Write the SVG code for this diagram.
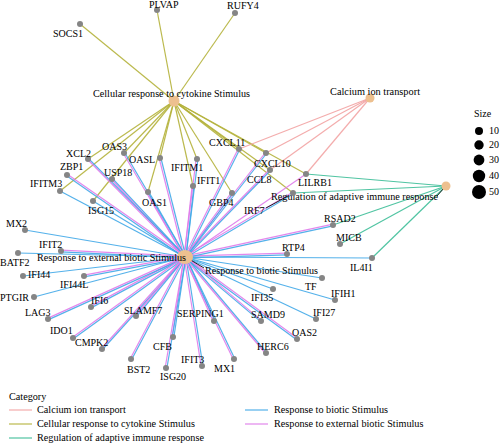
<svg xmlns="http://www.w3.org/2000/svg" width="500" height="443" viewBox="0 0 500 443">
<style>
text{font-family:"Liberation Serif","DejaVu Serif",serif;font-size:10px;fill:#000}
.hl{font-size:10.2px}
.lg{font-size:10.2px}
line{stroke-width:1.2;stroke-opacity:.9;fill:none}
.b{stroke:#41A9E8}
.m{stroke:#DF7BEA}
.o{stroke:#B4B13A}
.p{stroke:#F2A3A3}
.t{stroke:#3DBE98}
.k{stroke:#111;stroke-width:1}
.g{fill:#858585}
.h{fill:#EDC08F}
</style>
<rect width="500" height="443" fill="#fff"/>
<g id="connectors">
<line class="o" x1="174" y1="101" x2="80" y2="24"/>
<line class="o" x1="174" y1="101" x2="157" y2="10"/>
<line class="o" x1="174" y1="101" x2="235" y2="13"/>
<line class="o" x1="174" y1="101" x2="88" y2="159"/>
<line class="o" x1="174" y1="101" x2="124" y2="153"/>
<line class="o" x1="174" y1="101" x2="160" y2="158"/>
<line class="o" x1="174" y1="101" x2="60" y2="191"/>
<line class="o" x1="174" y1="101" x2="93" y2="201"/>
<line class="o" x1="174" y1="101" x2="148" y2="192"/>
<line class="o" x1="174" y1="101" x2="197" y2="159"/>
<line class="o" x1="174" y1="101" x2="193" y2="186"/>
<line class="o" x1="174" y1="101" x2="232" y2="193"/>
<line class="o" x1="174" y1="101" x2="239" y2="149"/>
<line class="o" x1="174" y1="101" x2="266" y2="153"/>
<line class="o" x1="174" y1="101" x2="270" y2="170"/>
<line class="o" x1="174" y1="101" x2="306" y2="174"/>
<line class="o" x1="174" y1="101" x2="293" y2="193"/>
<line class="p" x1="370" y1="98" x2="239" y2="149"/>
<line class="p" x1="370" y1="98" x2="266" y2="153"/>
<line class="p" x1="370" y1="98" x2="270" y2="170"/>
<line class="p" x1="370" y1="98" x2="306" y2="174"/>
<line class="t" x1="446" y1="186" x2="306" y2="174"/>
<line class="t" x1="446" y1="186" x2="293" y2="193"/>
<line class="t" x1="446" y1="186" x2="333" y2="225"/>
<line class="t" x1="446" y1="186" x2="340" y2="244"/>
<line class="t" x1="446" y1="186" x2="372" y2="258"/>
<line class="b" x1="185" y1="257" x2="25" y2="230"/>
<line class="b" x1="185" y1="257" x2="18" y2="253"/>
<line class="b" x1="185" y1="257" x2="23" y2="276"/>
<line class="b" x1="185" y1="257" x2="34" y2="297"/>
<line class="b" x1="185" y1="257" x2="316" y2="319"/>
<line class="b" x1="185" y1="257" x2="273" y2="289"/>
<line class="b" x1="185" y1="257" x2="335" y2="300"/>
<line class="b" x1="185" y1="257" x2="322" y2="278"/>
<line class="b" x1="185" y1="257" x2="372" y2="258"/>
<line class="b" x1="185" y1="257" x2="60" y2="191"/>
<line class="b" x1="185" y1="257" x2="93" y2="201"/>
<line class="m" x1="185" y1="257" x2="306" y2="174"/>
<line class="b" x1="185" y1="257.9" x2="61" y2="251.9"/><line class="m" x1="185" y1="256.1" x2="61" y2="250.1"/>
<line class="b" x1="185" y1="257.9" x2="84" y2="276.9"/><line class="m" x1="185" y1="256.1" x2="84" y2="275.1"/>
<line class="b" x1="185" y1="257.9" x2="91" y2="307.9"/><line class="m" x1="185" y1="256.1" x2="91" y2="306.1"/>
<line class="b" x1="185" y1="257.9" x2="48" y2="319.9"/><line class="m" x1="185" y1="256.1" x2="48" y2="318.1"/>
<line class="b" x1="185" y1="257.9" x2="73" y2="338.9"/><line class="m" x1="185" y1="256.1" x2="73" y2="337.1"/>
<line class="b" x1="185" y1="257.9" x2="297" y2="339.9"/><line class="m" x1="185" y1="256.1" x2="297" y2="338.1"/>
<line class="b" x1="185" y1="257.9" x2="261" y2="321.9"/><line class="m" x1="185" y1="256.1" x2="261" y2="320.1"/>
<line class="b" x1="185" y1="257.9" x2="287" y2="254.9"/><line class="m" x1="185" y1="256.1" x2="287" y2="253.1"/>
<line class="b" x1="185" y1="257.9" x2="333" y2="225.9"/><line class="m" x1="185" y1="256.1" x2="333" y2="224.1"/>
<line class="b" x1="185" y1="257.9" x2="293" y2="193.9"/><line class="m" x1="185" y1="256.1" x2="293" y2="192.1"/>
<line class="b" x1="185" y1="257.9" x2="67" y2="175.9"/><line class="m" x1="185" y1="256.1" x2="67" y2="174.1"/>
<line class="b" x1="185.9" y1="257" x2="102.9" y2="349"/><line class="m" x1="184.1" y1="257" x2="101.1" y2="349"/>
<line class="b" x1="185.9" y1="257" x2="136.9" y2="316"/><line class="m" x1="184.1" y1="257" x2="135.1" y2="316"/>
<line class="b" x1="185.9" y1="257" x2="131.9" y2="359"/><line class="m" x1="184.1" y1="257" x2="130.1" y2="359"/>
<line class="b" x1="185.9" y1="257" x2="173.9" y2="337"/><line class="m" x1="184.1" y1="257" x2="172.1" y2="337"/>
<line class="b" x1="185.9" y1="257" x2="166.9" y2="368"/><line class="m" x1="184.1" y1="257" x2="165.1" y2="368"/>
<line class="b" x1="185.9" y1="257" x2="202.9" y2="366"/><line class="m" x1="184.1" y1="257" x2="201.1" y2="366"/>
<line class="b" x1="185.9" y1="257" x2="234.9" y2="359"/><line class="m" x1="184.1" y1="257" x2="233.1" y2="359"/>
<line class="b" x1="185.9" y1="257" x2="214.9" y2="321"/><line class="m" x1="184.1" y1="257" x2="213.1" y2="321"/>
<line class="b" x1="185.9" y1="257" x2="266.9" y2="353"/><line class="m" x1="184.1" y1="257" x2="265.1" y2="353"/>
<line class="b" x1="185.9" y1="257" x2="270.9" y2="170"/><line class="m" x1="184.1" y1="257" x2="269.1" y2="170"/>
<line class="b" x1="185.9" y1="257" x2="266.9" y2="153"/><line class="m" x1="184.1" y1="257" x2="265.1" y2="153"/>
<line class="b" x1="185.9" y1="257" x2="239.9" y2="149"/><line class="m" x1="184.1" y1="257" x2="238.1" y2="149"/>
<line class="b" x1="185.9" y1="257" x2="232.9" y2="193"/><line class="m" x1="184.1" y1="257" x2="231.1" y2="193"/>
<line class="b" x1="185.9" y1="257" x2="193.9" y2="186"/><line class="m" x1="184.1" y1="257" x2="192.1" y2="186"/>
<line class="b" x1="185.9" y1="257" x2="197.9" y2="159"/><line class="m" x1="184.1" y1="257" x2="196.1" y2="159"/>
<line class="b" x1="185.9" y1="257" x2="160.9" y2="158"/><line class="m" x1="184.1" y1="257" x2="159.1" y2="158"/>
<line class="b" x1="185.9" y1="257" x2="148.9" y2="192"/><line class="m" x1="184.1" y1="257" x2="147.1" y2="192"/>
<line class="b" x1="185.9" y1="257" x2="112.9" y2="179"/><line class="m" x1="184.1" y1="257" x2="111.1" y2="179"/>
<line class="b" x1="185.9" y1="257" x2="124.9" y2="153"/><line class="m" x1="184.1" y1="257" x2="123.1" y2="153"/>
<line class="b" x1="185.9" y1="257" x2="88.9" y2="159"/><line class="m" x1="184.1" y1="257" x2="87.1" y2="159"/>
<line class="k" x1="189" y1="259" x2="204" y2="268"/>
<line class="k" x1="437" y1="196" x2="444" y2="188"/>
<line class="k" x1="266" y1="208" x2="288" y2="196"/>
</g>
<g id="hub-cytokine"><circle class="h" cx="174" cy="101" r="5.5"/><text class="hl" x="93" y="97" textLength="157" lengthAdjust="spacingAndGlyphs">Cellular response to cytokine Stimulus</text></g>
<g id="hub-calcium"><circle class="h" cx="370" cy="98" r="4.5"/><text class="hl" x="330" y="95" textLength="90" lengthAdjust="spacingAndGlyphs">Calcium ion transport</text></g>
<g id="hub-regulation"><circle class="h" cx="446" cy="186" r="4.5"/><text class="hl" x="271" y="200" textLength="167" lengthAdjust="spacingAndGlyphs">Regulation of adaptive immune response</text></g>
<g id="hub-external"><ellipse class="h" cx="185" cy="257" rx="8" ry="7"/><text class="hl" x="37" y="261" textLength="149" lengthAdjust="spacingAndGlyphs">Response to external biotic Stimulus</text></g>
<g id="hub-biotic"><circle class="h" cx="186" cy="257" r="6" fill-opacity="0"/><text class="hl" x="205" y="274" textLength="113" lengthAdjust="spacingAndGlyphs">Response to biotic Stimulus</text></g>
<g id="SOCS1"><circle class="g" cx="80" cy="24" r="3"/><text x="53" y="37">SOCS1</text></g>
<g id="PLVAP"><circle class="g" cx="157" cy="10" r="3"/><text x="149" y="8">PLVAP</text></g>
<g id="RUFY4"><circle class="g" cx="235" cy="13" r="3"/><text x="227" y="9">RUFY4</text></g>
<g id="XCL2"><circle class="g" cx="88" cy="159" r="3"/><text x="66" y="157">XCL2</text></g>
<g id="OAS3"><circle class="g" cx="124" cy="153" r="3"/><text x="102" y="150">OAS3</text></g>
<g id="OASL"><circle class="g" cx="160" cy="158" r="3"/><text x="129" y="163">OASL</text></g>
<g id="ZBP1"><circle class="g" cx="67" cy="175" r="3"/><text x="60" y="170">ZBP1</text></g>
<g id="USP18"><circle class="g" cx="112" cy="179" r="3"/><text x="104" y="176">USP18</text></g>
<g id="IFITM3"><circle class="g" cx="60" cy="191" r="3"/><text x="30" y="187">IFITM3</text></g>
<g id="ISG15"><circle class="g" cx="93" cy="201" r="3"/><text x="88" y="214">ISG15</text></g>
<g id="OAS1"><circle class="g" cx="148" cy="192" r="3"/><text x="142" y="206">OAS1</text></g>
<g id="IFITM1"><circle class="g" cx="197" cy="159" r="3"/><text x="171" y="171">IFITM1</text></g>
<g id="IFIT1"><circle class="g" cx="193" cy="186" r="3"/><text x="197" y="184">IFIT1</text></g>
<g id="GBP4"><circle class="g" cx="232" cy="193" r="3"/><text x="209" y="206">GBP4</text></g>
<g id="CXCL11"><circle class="g" cx="239" cy="149" r="3"/><text x="209" y="146">CXCL11</text></g>
<g id="CXCL10"><circle class="g" cx="266" cy="153" r="3"/><text x="254" y="167">CXCL10</text></g>
<g id="CCL8"><circle class="g" cx="270" cy="170" r="3"/><text x="247" y="183">CCL8</text></g>
<g id="LILRB1"><circle class="g" cx="306" cy="174" r="3"/><text x="298" y="186">LILRB1</text></g>
<g id="IRF7"><circle class="g" cx="293" cy="193" r="3"/><text x="244" y="214">IRF7</text></g>
<g id="MX2"><circle class="g" cx="25" cy="230" r="3"/><text x="6" y="227">MX2</text></g>
<g id="IFIT2"><circle class="g" cx="61" cy="251" r="3"/><text x="39" y="248">IFIT2</text></g>
<g id="BATF2"><circle class="g" cx="18" cy="253" r="3"/><text x="0" y="266">BATF2</text></g>
<g id="IFI44"><circle class="g" cx="23" cy="276" r="3"/><text x="28" y="278">IFI44</text></g>
<g id="IFI44L"><circle class="g" cx="84" cy="276" r="3"/><text x="60" y="288">IFI44L</text></g>
<g id="PTGIR"><circle class="g" cx="34" cy="297" r="3"/><text x="0" y="301">PTGIR</text></g>
<g id="IFI6"><circle class="g" cx="91" cy="307" r="3"/><text x="91" y="304">IFI6</text></g>
<g id="LAG3"><circle class="g" cx="48" cy="319" r="3"/><text x="25" y="316">LAG3</text></g>
<g id="IDO1"><circle class="g" cx="73" cy="338" r="3"/><text x="50" y="334">IDO1</text></g>
<g id="CMPK2"><circle class="g" cx="102" cy="349" r="3"/><text x="75" y="346">CMPK2</text></g>
<g id="SLAMF7"><circle class="g" cx="136" cy="316" r="3"/><text x="124" y="314">SLAMF7</text></g>
<g id="BST2"><circle class="g" cx="131" cy="359" r="3"/><text x="127" y="373">BST2</text></g>
<g id="CFB"><circle class="g" cx="173" cy="337" r="3"/><text x="153" y="350">CFB</text></g>
<g id="ISG20"><circle class="g" cx="166" cy="368" r="3"/><text x="160" y="380">ISG20</text></g>
<g id="IFIT3"><circle class="g" cx="202" cy="366" r="3"/><text x="181" y="363">IFIT3</text></g>
<g id="MX1"><circle class="g" cx="234" cy="359" r="3"/><text x="214" y="372">MX1</text></g>
<g id="SERPING1"><circle class="g" cx="214" cy="321" r="3"/><text x="177" y="317">SERPING1</text></g>
<g id="HERC6"><circle class="g" cx="266" cy="353" r="3"/><text x="257" y="350">HERC6</text></g>
<g id="OAS2"><circle class="g" cx="297" cy="339" r="3"/><text x="292" y="336">OAS2</text></g>
<g id="SAMD9"><circle class="g" cx="261" cy="321" r="3"/><text x="251" y="318">SAMD9</text></g>
<g id="IFI27"><circle class="g" cx="316" cy="319" r="3"/><text x="313" y="316">IFI27</text></g>
<g id="IFI35"><circle class="g" cx="273" cy="289" r="3"/><text x="251" y="301">IFI35</text></g>
<g id="IFIH1"><circle class="g" cx="335" cy="300" r="3"/><text x="331" y="297">IFIH1</text></g>
<g id="TF"><circle class="g" cx="322" cy="278" r="3"/><text x="305" y="290">TF</text></g>
<g id="IL4I1"><circle class="g" cx="372" cy="258" r="3"/><text x="350" y="271">IL4I1</text></g>
<g id="RTP4"><circle class="g" cx="287" cy="254" r="3"/><text x="282" y="251">RTP4</text></g>
<g id="MICB"><circle class="g" cx="340" cy="244" r="3"/><text x="336" y="241">MICB</text></g>
<g id="RSAD2"><circle class="g" cx="333" cy="225" r="3"/><text x="324" y="222">RSAD2</text></g>
<g id="legend-size">
<text x="474" y="117">Size</text>
<circle cx="479" cy="131" r="4"/><text x="489" y="134">10</text>
<circle cx="479" cy="145" r="4.7"/><text x="489" y="148">20</text>
<circle cx="479" cy="160" r="5.4"/><text x="489" y="163">30</text>
<circle cx="479" cy="176" r="6.2"/><text x="489" y="179">40</text>
<circle cx="479" cy="192" r="7"/><text x="489" y="195">50</text>
</g>
<g id="legend-category">
<text class="lg" x="9" y="400">Category</text>
<line class="p" x1="9" y1="410" x2="32" y2="410"/><text class="lg" x="37" y="413">Calcium ion transport</text>
<line class="o" x1="9" y1="424" x2="32" y2="424"/><text class="lg" x="37" y="427">Cellular response to cytokine Stimulus</text>
<line class="t" x1="9" y1="438" x2="32" y2="438"/><text class="lg" x="37" y="441">Regulation of adaptive immune response</text>
<line class="b" x1="245" y1="410" x2="268" y2="410"/><text class="lg" x="274" y="413">Response to biotic Stimulus</text>
<line class="m" x1="245" y1="424" x2="268" y2="424"/><text class="lg" x="274" y="427">Response to external biotic Stimulus</text>
</g>
</svg>
